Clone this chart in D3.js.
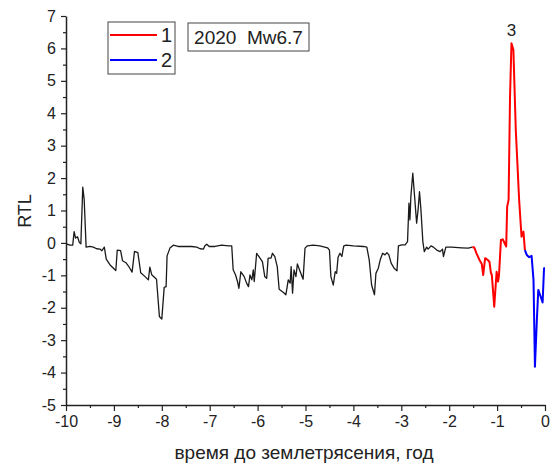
<!DOCTYPE html>
<html>
<head>
<meta charset="utf-8">
<script src="https://cdn.jsdelivr.net/npm/d3@7"></script>
<style>
  html, body { margin: 0; padding: 0; background: #fff; }
  svg { display: block; }
  text { font-family: "Liberation Sans", Arial, sans-serif; fill: #222; }
</style>
</head>
<body>
<svg id="chart" width="552" height="468"></svg>
<script>
// RTL parameter vs. time before the earthquake (years)
const backgroundSeries = [
  [-9.99, -0.03], [-9.92, -0.07], [-9.86, -0.07], [-9.83, 0.35], [-9.80, 0.15],
  [-9.76, 0.19], [-9.72, 0.01], [-9.69, -0.03], [-9.65, 1.72], [-9.62, 1.33],
  [-9.58, -0.13], [-9.50, -0.11], [-9.43, -0.13], [-9.36, -0.18], [-9.29, -0.19],
  [-9.25, -0.24], [-9.20, -0.13], [-9.16, -0.50], [-9.08, -0.68], [-8.96, -0.85],
  [-8.93, -0.22], [-8.86, -0.24], [-8.82, -0.55], [-8.75, -0.61], [-8.68, -0.75],
  [-8.62, -0.90], [-8.57, -0.26], [-8.50, -0.30], [-8.44, -0.92], [-8.35, -1.04],
  [-8.28, -1.14], [-8.25, -0.75], [-8.21, -0.98], [-8.11, -1.12], [-8.05, -2.27],
  [-8.00, -2.35], [-7.95, -1.37], [-7.91, -1.35], [-7.89, -0.40], [-7.83, -0.16],
  [-7.76, -0.07], [-7.66, -0.11], [-7.52, -0.11], [-7.38, -0.11], [-7.27, -0.13],
  [-7.20, -0.18], [-7.13, -0.19], [-7.10, -0.09], [-7.06, -0.04], [-7.01, -0.11],
  [-6.89, -0.11], [-6.75, -0.07], [-6.61, -0.09], [-6.54, -0.09], [-6.51, -0.83],
  [-6.46, -0.99], [-6.42, -1.19], [-6.39, -1.40], [-6.35, -0.89], [-6.28, -1.04],
  [-6.23, -1.24], [-6.19, -1.35], [-6.16, -0.99], [-6.12, -1.14], [-6.09, -0.83],
  [-6.07, -1.19], [-6.02, -0.32], [-5.95, -0.47], [-5.90, -0.58], [-5.85, -1.04],
  [-5.81, -1.09], [-5.78, -0.47], [-5.72, -0.47], [-5.69, -0.32], [-5.64, -0.42],
  [-5.59, -0.73], [-5.55, -1.43], [-5.46, -1.53], [-5.41, -1.60], [-5.36, -1.14],
  [-5.32, -1.24], [-5.30, -0.73], [-5.27, -1.55], [-5.24, -0.83], [-5.20, -1.04],
  [-5.17, -0.65], [-5.11, -0.89], [-5.05, -1.12], [-5.01, -0.16], [-4.96, -0.09],
  [-4.84, -0.07], [-4.70, -0.09], [-4.54, -0.15], [-4.50, -0.22], [-4.47, -1.04],
  [-4.42, -1.30], [-4.38, -0.89], [-4.35, -0.94], [-4.32, -0.44], [-4.28, -0.32],
  [-4.24, -0.42], [-4.22, -0.24], [-4.20, -0.09], [-4.15, -0.07], [-4.00, -0.09],
  [-3.79, -0.11], [-3.72, -0.13], [-3.67, -0.52], [-3.62, -1.30], [-3.56, -1.60],
  [-3.53, -0.94], [-3.48, -0.78], [-3.44, -0.52], [-3.39, -0.32], [-3.34, -0.37],
  [-3.30, -0.30], [-3.26, -0.37], [-3.21, -0.63], [-3.15, -0.78], [-3.09, -0.86],
  [-3.06, -0.09], [-2.99, -0.06], [-2.92, -0.06], [-2.87, 0.04], [-2.84, 1.23],
  [-2.82, 0.71], [-2.80, 1.43], [-2.76, 2.15], [-2.73, 1.58], [-2.68, 0.61],
  [-2.65, 1.02], [-2.62, 1.58], [-2.59, 1.02], [-2.55, 0.04], [-2.52, -0.27],
  [-2.47, -0.13], [-2.44, -0.19], [-2.38, -0.09], [-2.33, -0.13], [-2.26, -0.22],
  [-2.19, -0.27], [-2.14, -0.19], [-2.12, -0.42], [-2.07, -0.13], [-1.95, -0.13],
  [-1.74, -0.15], [-1.60, -0.16], [-1.52, -0.13]
];

// Stage 1: growth before the main shock
const stage1Series = [
  [-1.52, -0.13], [-1.48, -0.13], [-1.43, -0.32], [-1.37, -0.52], [-1.32, -0.65],
  [-1.29, -0.99], [-1.25, -0.47], [-1.20, -0.52], [-1.16, -0.58], [-1.13, -0.92],
  [-1.11, -0.99], [-1.06, -1.97], [-1.01, -0.89], [-0.98, -1.19], [-0.96, -0.99],
  [-0.92, 0.09], [-0.88, 0.11], [-0.81, -0.11], [-0.79, 1.12], [-0.76, 1.33],
  [-0.73, 4.52], [-0.70, 6.16], [-0.66, 5.96], [-0.61, 3.49], [-0.54, 1.33],
  [-0.49, 0.19], [-0.45, 0.35], [-0.42, -0.22]
];

// Stage 2: quiescence just before the event
const stage2Series = [
  [-0.42, -0.22], [-0.38, -0.37], [-0.33, -0.44], [-0.28, -0.40], [-0.24, -1.14],
  [-0.21, -3.82], [-0.17, -2.38], [-0.14, -1.45], [-0.09, -1.66], [-0.05, -1.84],
  [-0.02, -0.78], [0.00, -0.78]
];

const xTicks = [-10, -9, -8, -7, -6, -5, -4, -3, -2, -1, 0];
const yTicks = [-5, -4, -3, -2, -1, 0, 1, 2, 3, 4, 5, 6, 7];
const legendLabels = ["1", "2"];
const stageColors = ["#ff0000", "#0000ff"];
const eventLabel = "2020  Mw6.7";
const peakLabel = "3";

const svg = d3.select("#chart");

const x = d3.scaleLinear().domain([-10, 0]).range([66, 545]);
const y = d3.scaleLinear().domain([-5, 7]).range([405, 16]);

const axisColor = "#222";
// Plain hyphen-minus for negative tick labels
const plainInt = d => String(d);

// Minor ticks at half-unit steps
const xMinor = d3.range(-9.5, 0, 1);
const yMinor = d3.range(-4.5, 7, 1);

const xAxis = svg.append("g")
  .attr("transform", `translate(0,${y(-5)})`)
  .call(d3.axisBottom(x).tickValues(xTicks).tickSize(6).tickPadding(5)
    .tickFormat(plainInt).tickSizeOuter(0));
xAxis.selectAll(".tick text").attr("font-size", 16);

svg.append("g")
  .attr("transform", `translate(0,${y(-5)})`)
  .call(d3.axisBottom(x).tickValues(xMinor).tickSize(3).tickFormat("").tickSizeOuter(0))
  .select(".domain").remove();

const yAxis = svg.append("g")
  .attr("transform", `translate(${x(-10)},0)`)
  .call(d3.axisLeft(y).tickValues(yTicks).tickSize(5).tickPadding(5)
    .tickFormat(plainInt).tickSizeOuter(0));
yAxis.selectAll(".tick text").attr("font-size", 16);

svg.append("g")
  .attr("transform", `translate(${x(-10)},0)`)
  .call(d3.axisLeft(y).tickValues(yMinor).tickSize(3).tickFormat("").tickSizeOuter(0))
  .select(".domain").remove();

svg.selectAll(".domain").attr("stroke", axisColor).attr("stroke-width", 1.5);
svg.selectAll(".tick line").attr("stroke", axisColor).attr("stroke-width", 1.2);
svg.selectAll(".tick text").attr("fill", "#222").style("font-family", "Liberation Sans, Arial, sans-serif");

// Axis titles
svg.append("text")
  .attr("x", 304).attr("y", 459)
  .attr("text-anchor", "middle")
  .attr("font-size", 19)
  .text("время до землетрясения, год");

svg.append("text")
  .attr("transform", `translate(31,211) rotate(-90)`)
  .attr("text-anchor", "middle")
  .attr("font-size", 18)
  .text("RTL");

// Curves
const line = d3.line().x(d => x(d[0])).y(d => y(d[1]));

svg.append("path").datum(backgroundSeries)
  .attr("d", line).attr("fill", "none")
  .attr("stroke", "#1a1a1a").attr("stroke-width", 1.3)
  .attr("stroke-linejoin", "round");

svg.append("path").datum(stage1Series)
  .attr("d", line).attr("fill", "none")
  .attr("stroke", stageColors[0]).attr("stroke-width", 2)
  .attr("stroke-linejoin", "round");

svg.append("path").datum(stage2Series)
  .attr("d", line).attr("fill", "none")
  .attr("stroke", stageColors[1]).attr("stroke-width", 2)
  .attr("stroke-linejoin", "round");

// Peak marker
const peak = stage1Series.reduce((a, b) => (b[1] > a[1] ? b : a));
svg.append("text")
  .attr("x", x(peak[0])).attr("y", y(peak[1]) - 7)
  .attr("text-anchor", "middle")
  .attr("font-size", 17)
  .text(peakLabel);

// Legend
const legend = svg.append("g").attr("transform", "translate(108,22)");
legend.append("rect")
  .attr("width", 67).attr("height", 52)
  .attr("fill", "#fff").attr("stroke", "#444").attr("stroke-width", 1);
legendLabels.forEach((lab, i) => {
  const ly = 13 + i * 25;
  legend.append("line")
    .attr("x1", 2).attr("x2", 49).attr("y1", ly).attr("y2", ly)
    .attr("stroke", stageColors[i]).attr("stroke-width", 2);
  legend.append("text")
    .attr("x", 53).attr("y", ly + 7)
    .attr("font-size", 20)
    .text(lab);
});

// Event annotation
const ev = svg.append("g").attr("transform", "translate(188,23)");
ev.append("rect")
  .attr("width", 121).attr("height", 28)
  .attr("fill", "#fff").attr("stroke", "#444").attr("stroke-width", 1);
ev.append("text")
  .attr("x", 60.5).attr("y", 21)
  .attr("text-anchor", "middle")
  .attr("font-size", 19)
  .style("white-space", "pre")
  .text(eventLabel);
</script>
</body>
</html>
